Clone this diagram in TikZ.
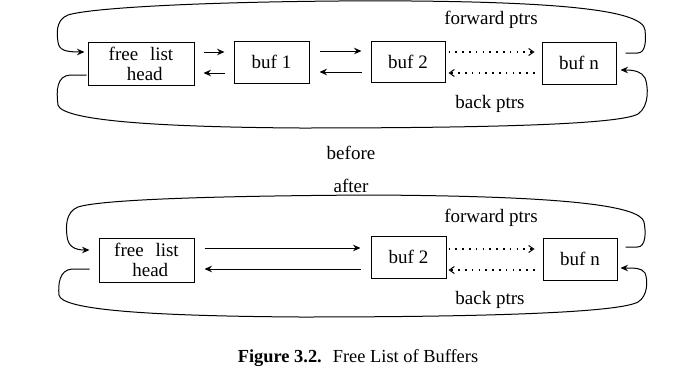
\documentclass[tikz,border=0pt]{standalone}
\usepackage{fontspec}
\setmainfont{Liberation Serif}
\usetikzlibrary{arrows.meta,calc}
\begin{document}
\begin{tikzpicture}[x=1pt,y=-1pt,
  txt/.style={font=\fontsize{19}{20}\selectfont, inner sep=0pt},
  bufbox/.style={draw, line width=1pt, inner sep=0pt, align=center,
    font=\fontsize{19}{20}\selectfont},
  sarrow/.style={line width=1pt, -{Stealth[length=7.5pt,width=6.5pt,inset=2.5pt]}},
  darrow/.style={line width=1.2pt, dash pattern=on 1.6pt off 5.2pt,
    -{Straight Barb[length=5pt,width=7pt,line width=1pt]}},
  loop/.style={line width=1pt, -{Stealth[length=7.5pt,width=6.5pt,inset=2.5pt]}}]
\useasboundingbox (0,0) rectangle (700,378);
\fill[white] (0,0) rectangle (700,378);

% ---------- before ----------
\node[bufbox, minimum width=106pt, minimum height=43pt] (fh) at (141,63.5) {free\hspace{0.62em}list\\\hspace{0.4em}head};
\node[bufbox, minimum width=75pt, minimum height=42pt] (b1) at (271.5,62) {buf 1};
\node[bufbox, minimum width=74pt, minimum height=41pt] (b2) at (408,61.5) {buf 2};
\node[bufbox, minimum width=74pt, minimum height=42pt] (bn) at (579,63) {buf n};

\draw[sarrow] ($(fh.east)+(9,-11.5)$) -- ($(b1.west)+(-9,-10)$);
\draw[sarrow] ($(b1.west)+(-9,11)$) -- ($(fh.east)+(9,9.5)$);
\draw[sarrow] ($(b1.east)+(10,-11)$) -- ($(b2.west)+(-9,-10.5)$);
\draw[sarrow] ($(b2.west)+(-9,10.5)$) -- ($(b1.east)+(10,10)$);
\draw[darrow] ($(b2.east)+(3,-9.5)$) -- ($(bn.west)+(-7,-11)$);
\draw[darrow] ($(bn.west)+(-7,10)$) -- ($(b2.east)+(3,11.5)$);

\coordinate (f1s) at ($(bn.east)+(9,-10)$);
\coordinate (f1e) at ($(fh.west)+(-3,-11.5)$);
\draw[loop] (f1s) -- ++(12,0) .. controls (646,53) and (646,40) .. (645,30)
  .. controls (643,10) and (560,1) .. (370,0.8)
  .. controls (200,1.5) and (90,8) .. (68,15)
  .. controls (55,20) and (57,35) .. (58,42)
  .. controls (59,50) and (65,52) .. (f1e);
\coordinate (k1s) at ($(fh.west)+(-1,11.5)$);
\coordinate (k1e) at ($(bn.east)+(4,7)$);
\draw[loop] (k1s) -- (70,75) .. controls (57,76) and (56,90) .. (58,105)
  .. controls (62,120) and (150,127) .. (300,128)
  .. controls (500,128) and (620,124) .. (638,114)
  .. controls (650,106) and (648,85) .. (645,78)
  .. controls (642,72) and (635,70) .. (k1e);

\node[txt] (fw1) at (491,20) {forward ptrs};
\node[txt] (bk1) at (490,104) {back ptrs};
\node[txt] (bef) at (351,153) {before};
\node[txt] (aft) at (351,186) {after};

% ---------- after ----------
\node[bufbox, minimum width=95pt, minimum height=44pt] (fh2) at (146.5,260) {free\hspace{0.62em}list\\\hspace{0.4em}head};
\node[bufbox, minimum width=75pt, minimum height=42pt] (b22) at (408.5,257) {buf 2};
\node[bufbox, minimum width=74pt, minimum height=42pt] (bn2) at (580,259) {buf n};

\draw[sarrow] ($(fh2.east)+(10,-12)$) -- ($(b22.west)+(-10,-9)$);
\draw[sarrow] ($(b22.west)+(-10,12)$) -- ($(fh2.east)+(10,9)$);
\draw[darrow] ($(b22.east)+(2,-8)$) -- ($(bn2.west)+(-8,-10)$);
\draw[darrow] ($(bn2.west)+(-8,11)$) -- ($(b22.east)+(2,13)$);

\coordinate (f2s) at ($(bn2.east)+(8,-12)$);
\coordinate (f2e) at ($(fh2.west)+(-9,-10)$);
\draw[loop] (f2s) -- ++(12,0) .. controls (646,247) and (646,232) .. (644,222)
  .. controls (640,205) and (560,196) .. (370,195)
  .. controls (200,196) and (100,200) .. (78,207)
  .. controls (65,212) and (66,228) .. (67,236)
  .. controls (68,246) and (74,250) .. (f2e);
\coordinate (k2s) at ($(fh2.west)+(-9,9)$);
\coordinate (k2e) at ($(bn2.east)+(3,9)$);
\draw[loop] (k2s) -- (72,269) .. controls (59,270) and (58,285) .. (59,295)
  .. controls (61,310) and (150,316) .. (300,317)
  .. controls (500,317) and (620,312) .. (638,302)
  .. controls (648,296) and (648,280) .. (645,273)
  .. controls (642,268) and (635,268) .. (k2e);

\node[txt] (fw2) at (491,218) {forward ptrs};
\node[txt] (bk2) at (490,300) {back ptrs};

\node[txt, font=\fontsize{18.4}{20}\selectfont] (cap) at (358,358) {\textbf{Figure 3.2.}\hspace{0.6em}Free List of Buffers};
\end{tikzpicture}
\end{document}
